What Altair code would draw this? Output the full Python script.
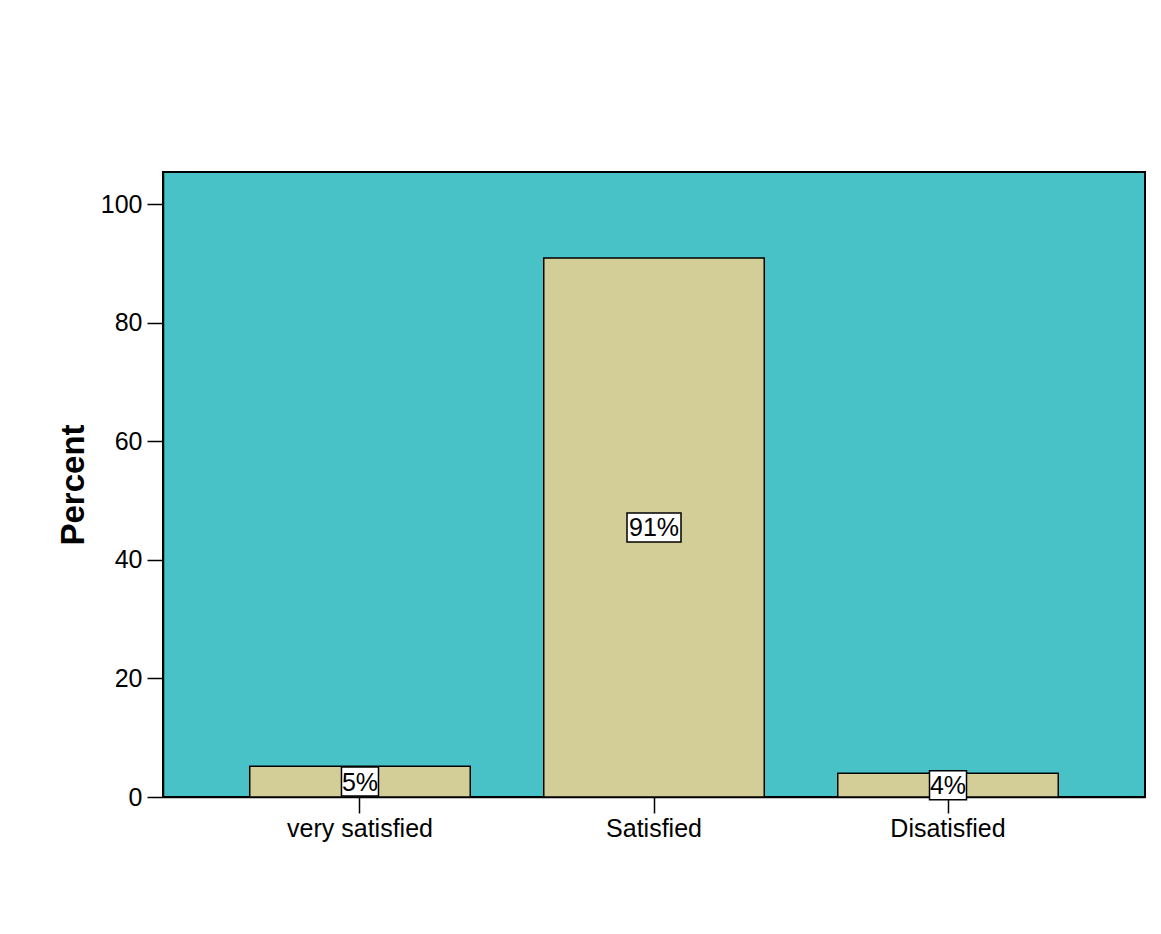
import altair as alt
import pandas as pd

categories = ["very satisfied", "Satisfied", "Disatisfied"]
percents = [5.2, 90.9, 4.0]
labels = ["5%", "91%", "4%"]

df = pd.DataFrame({"cat": categories, "pct": percents, "label": labels})

FONT = "Liberation Sans"

x_enc = alt.X("cat:N", sort=categories, title=None,
              scale=alt.Scale(paddingInner=0.25, paddingOuter=0.295),
              axis=alt.Axis(labelAngle=0, labelFont=FONT, labelFontSize=25,
                            labelColor="black", tickSize=16, tickColor="black",
                            tickWidth=1.5, domainColor="black", domainWidth=1.5,
                            labelPadding=3))

bars = alt.Chart(df).mark_bar(color="#D3CE98", stroke="black", strokeWidth=1.5).encode(
    x=x_enc,
    y=alt.Y("pct:Q", title="Percent",
            scale=alt.Scale(domain=[0, 105.4], nice=False, zero=True),
            axis=alt.Axis(values=[0, 20, 40, 60, 80, 100], grid=False,
                          labelFont=FONT, labelFontSize=25, labelColor="black",
                          tickSize=16, tickColor="black", tickWidth=1.5,
                          domainColor="black", domainWidth=1.5, labelPadding=5,
                          titleFont=FONT, titleFontSize=33, titleFontWeight="bold",
                          titleColor="black", titlePadding=10)),
)

base = alt.Chart(df).transform_calculate(
    mid="datum.pct / 2",
    boxw="17 * length(datum.label) + 3",
).transform_calculate(
    shape="'M-1,-' + (14.5 / (datum.boxw / 2)) + 'H1V' + (14.5 / (datum.boxw / 2)) + 'H-1Z'",
    size="datum.boxw * datum.boxw",
)

boxes = base.mark_point(filled=True, fill="white", stroke="black", strokeWidth=1.5,
                        opacity=1).encode(
    x=alt.X("cat:N", sort=categories),
    y=alt.Y("mid:Q"),
    shape=alt.Shape("shape:N", scale=None),
    size=alt.Size("size:Q", scale=None),
)

texts = base.mark_text(font=FONT, fontSize=25, color="black", baseline="middle",
                       align="center", dy=1).encode(
    x=alt.X("cat:N", sort=categories),
    y=alt.Y("mid:Q"),
    text="label:N",
)

chart = alt.layer(bars, boxes, texts).properties(
    width=982, height=625,
    autosize=alt.AutoSizeParams(type="none"),
    padding={"left": 163, "top": 172, "right": 16, "bottom": 137},
    background="white",
).configure_view(
    fill="#49C2C7", stroke="black", strokeWidth=2,
)

chart.save("out.html", embed_options={"renderer": "svg", "actions": False})
